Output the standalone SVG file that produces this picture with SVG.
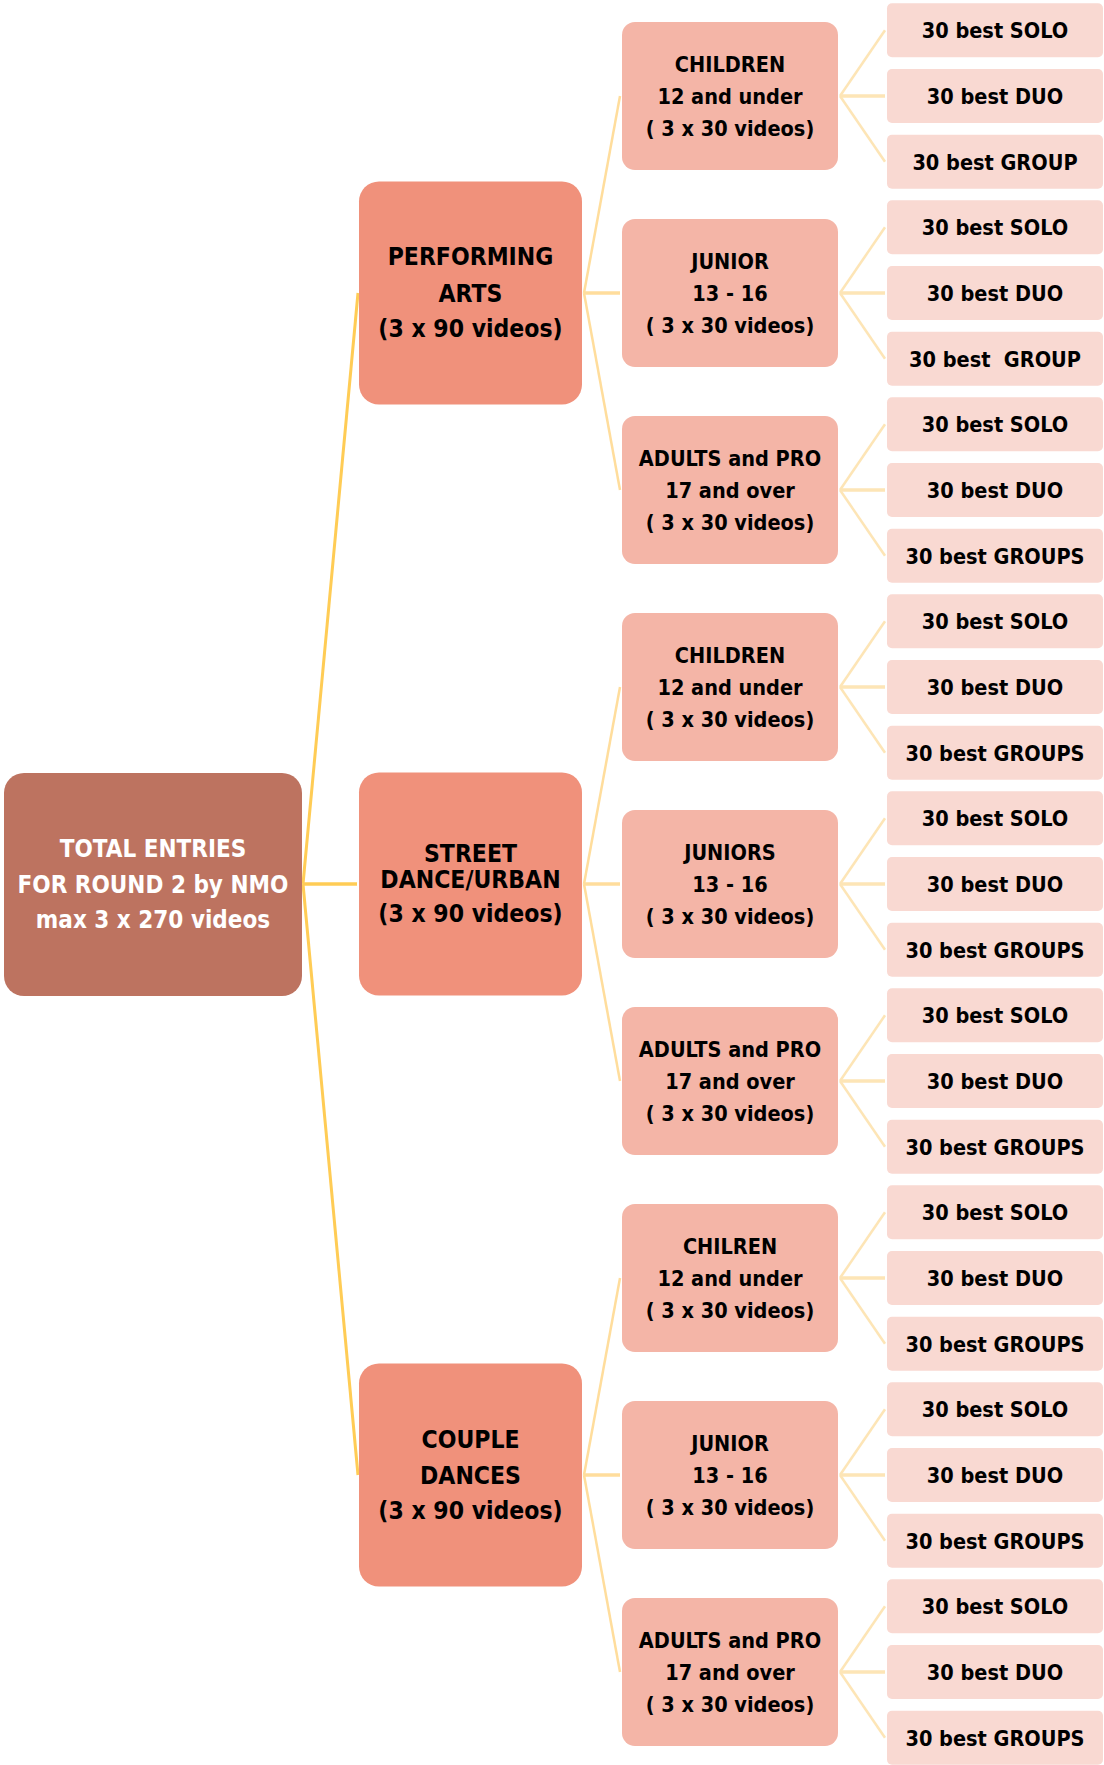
<svg xmlns="http://www.w3.org/2000/svg" width="1104" height="1765" viewBox="0 0 1104 1765">
<style>
text{font-family:"DejaVu Sans Condensed","DejaVu Sans","Liberation Sans",sans-serif;font-stretch:condensed;font-weight:bold;text-anchor:middle;fill:#000}
.root rect{fill:#BD7360}
.root text{fill:#fff;font-size:24px}
.l1 rect{fill:#F0917B}
.l1 text{font-size:24.5px}
.l2 rect{fill:#F4B5A7}
.l2 text{font-size:21.5px}
.lf rect{fill:#F9D9D2}
.lf text{font-size:21.5px}
.c0{stroke:#FFCC55;stroke-width:3;fill:none}
.c1{stroke:#FFDD9C;stroke-width:2.5;fill:none}
.c2{stroke:#FDE5B6;stroke-width:2.5;fill:none}
.h0{stroke:#FFCC55;stroke-width:3.5}
.h1{stroke:#FFDD9C;stroke-width:3.5}
.h2{stroke:#FDE5B6;stroke-width:3.5}
</style>
<g id="connectors">
<line class="c0" x1="303" y1="884" x2="358" y2="293"/>
<line class="h0" x1="303" y1="884" x2="357" y2="884"/>
<line class="c0" x1="303" y1="884" x2="358" y2="1475"/>
<line class="c1" x1="584" y1="293" x2="620" y2="96"/>
<line class="h1" x1="584" y1="293" x2="620" y2="293"/>
<line class="c1" x1="584" y1="293" x2="620" y2="490"/>
<line class="c1" x1="584" y1="884" x2="620" y2="687"/>
<line class="h1" x1="584" y1="884" x2="620" y2="884"/>
<line class="c1" x1="584" y1="884" x2="620" y2="1081"/>
<line class="c1" x1="584" y1="1475" x2="620" y2="1278"/>
<line class="h1" x1="584" y1="1475" x2="620" y2="1475"/>
<line class="c1" x1="584" y1="1475" x2="620" y2="1672"/>
<line class="c2" x1="840" y1="96" x2="885" y2="30.3"/><line class="h2" x1="840" y1="96" x2="885" y2="96"/><line class="c2" x1="840" y1="96" x2="885" y2="161.7"/>
<line class="c2" x1="840" y1="293" x2="885" y2="227.3"/><line class="h2" x1="840" y1="293" x2="885" y2="293"/><line class="c2" x1="840" y1="293" x2="885" y2="358.7"/>
<line class="c2" x1="840" y1="490" x2="885" y2="424.3"/><line class="h2" x1="840" y1="490" x2="885" y2="490"/><line class="c2" x1="840" y1="490" x2="885" y2="555.7"/>
<line class="c2" x1="840" y1="687" x2="885" y2="621.3"/><line class="h2" x1="840" y1="687" x2="885" y2="687"/><line class="c2" x1="840" y1="687" x2="885" y2="752.7"/>
<line class="c2" x1="840" y1="884" x2="885" y2="818.3"/><line class="h2" x1="840" y1="884" x2="885" y2="884"/><line class="c2" x1="840" y1="884" x2="885" y2="949.7"/>
<line class="c2" x1="840" y1="1081" x2="885" y2="1015.3"/><line class="h2" x1="840" y1="1081" x2="885" y2="1081"/><line class="c2" x1="840" y1="1081" x2="885" y2="1146.7"/>
<line class="c2" x1="840" y1="1278" x2="885" y2="1212.3"/><line class="h2" x1="840" y1="1278" x2="885" y2="1278"/><line class="c2" x1="840" y1="1278" x2="885" y2="1343.7"/>
<line class="c2" x1="840" y1="1475" x2="885" y2="1409.3"/><line class="h2" x1="840" y1="1475" x2="885" y2="1475"/><line class="c2" x1="840" y1="1475" x2="885" y2="1540.7"/>
<line class="c2" x1="840" y1="1672" x2="885" y2="1606.3"/><line class="h2" x1="840" y1="1672" x2="885" y2="1672"/><line class="c2" x1="840" y1="1672" x2="885" y2="1737.7"/>
</g>
<g id="root" class="root">
<rect x="4" y="773" width="298" height="223" rx="20"/>
<text x="153" y="857">TOTAL ENTRIES</text>
<text x="153" y="893">FOR ROUND 2 by NMO</text>
<text x="153" y="928">max 3 x 270 videos</text>
</g>
<g id="performing" class="l1">
<rect x="359" y="181.5" width="223" height="223" rx="20"/>
<text x="470.5" y="265">PERFORMING</text>
<text x="470.5" y="301.5">ARTS</text>
<text x="470.5" y="337">(3 x 90 videos)</text>
</g>
<g id="street" class="l1">
<rect x="359" y="772.5" width="223" height="223" rx="20"/>
<text x="470.5" y="862">STREET</text>
<text x="470.5" y="887.5">DANCE/URBAN</text>
<text x="470.5" y="922">(3 x 90 videos)</text>
</g>
<g id="couple" class="l1">
<rect x="359" y="1363.5" width="223" height="223" rx="20"/>
<text x="470.5" y="1448">COUPLE</text>
<text x="470.5" y="1484">DANCES</text>
<text x="470.5" y="1519">(3 x 90 videos)</text>
</g>
<g id="pa-children" class="l2"><rect x="622" y="22" width="216" height="148" rx="13"/><text x="730" y="72">CHILDREN</text><text x="730" y="104">12 and under</text><text x="730" y="136">( 3 x 30 videos)</text></g>
<g id="pa-junior" class="l2"><rect x="622" y="219" width="216" height="148" rx="13"/><text x="730" y="269">JUNIOR</text><text x="730" y="301">13 - 16</text><text x="730" y="333">( 3 x 30 videos)</text></g>
<g id="pa-adults" class="l2"><rect x="622" y="416" width="216" height="148" rx="13"/><text x="730" y="466">ADULTS and PRO</text><text x="730" y="498">17 and over</text><text x="730" y="530">( 3 x 30 videos)</text></g>
<g id="sd-children" class="l2"><rect x="622" y="613" width="216" height="148" rx="13"/><text x="730" y="663">CHILDREN</text><text x="730" y="695">12 and under</text><text x="730" y="727">( 3 x 30 videos)</text></g>
<g id="sd-juniors" class="l2"><rect x="622" y="810" width="216" height="148" rx="13"/><text x="730" y="860">JUNIORS</text><text x="730" y="892">13 - 16</text><text x="730" y="924">( 3 x 30 videos)</text></g>
<g id="sd-adults" class="l2"><rect x="622" y="1007" width="216" height="148" rx="13"/><text x="730" y="1057">ADULTS and PRO</text><text x="730" y="1089">17 and over</text><text x="730" y="1121">( 3 x 30 videos)</text></g>
<g id="cd-children" class="l2"><rect x="622" y="1204" width="216" height="148" rx="13"/><text x="730" y="1254">CHILREN</text><text x="730" y="1286">12 and under</text><text x="730" y="1318">( 3 x 30 videos)</text></g>
<g id="cd-junior" class="l2"><rect x="622" y="1401" width="216" height="148" rx="13"/><text x="730" y="1451">JUNIOR</text><text x="730" y="1483">13 - 16</text><text x="730" y="1515">( 3 x 30 videos)</text></g>
<g id="cd-adults" class="l2"><rect x="622" y="1598" width="216" height="148" rx="13"/><text x="730" y="1648">ADULTS and PRO</text><text x="730" y="1680">17 and over</text><text x="730" y="1712">( 3 x 30 videos)</text></g>
<g id="leaf1" class="lf"><rect x="887" y="3.3" width="216" height="54" rx="5"/><text x="995" y="38.3">30 best SOLO</text></g>
<g id="leaf2" class="lf"><rect x="887" y="69" width="216" height="54" rx="5"/><text x="995" y="104">30 best DUO</text></g>
<g id="leaf3" class="lf"><rect x="887" y="134.7" width="216" height="54" rx="5"/><text x="995" y="169.7">30 best GROUP</text></g>
<g id="leaf4" class="lf"><rect x="887" y="200.3" width="216" height="54" rx="5"/><text x="995" y="235.3">30 best SOLO</text></g>
<g id="leaf5" class="lf"><rect x="887" y="266" width="216" height="54" rx="5"/><text x="995" y="301">30 best DUO</text></g>
<g id="leaf6" class="lf"><rect x="887" y="331.7" width="216" height="54" rx="5"/><text x="995" y="366.7" xml:space="preserve">30 best  GROUP</text></g>
<g id="leaf7" class="lf"><rect x="887" y="397.3" width="216" height="54" rx="5"/><text x="995" y="432.3">30 best SOLO</text></g>
<g id="leaf8" class="lf"><rect x="887" y="463" width="216" height="54" rx="5"/><text x="995" y="498">30 best DUO</text></g>
<g id="leaf9" class="lf"><rect x="887" y="528.7" width="216" height="54" rx="5"/><text x="995" y="563.7">30 best GROUPS</text></g>
<g id="leaf10" class="lf"><rect x="887" y="594.3" width="216" height="54" rx="5"/><text x="995" y="629.3">30 best SOLO</text></g>
<g id="leaf11" class="lf"><rect x="887" y="660" width="216" height="54" rx="5"/><text x="995" y="695">30 best DUO</text></g>
<g id="leaf12" class="lf"><rect x="887" y="725.7" width="216" height="54" rx="5"/><text x="995" y="760.7">30 best GROUPS</text></g>
<g id="leaf13" class="lf"><rect x="887" y="791.3" width="216" height="54" rx="5"/><text x="995" y="826.3">30 best SOLO</text></g>
<g id="leaf14" class="lf"><rect x="887" y="857" width="216" height="54" rx="5"/><text x="995" y="892">30 best DUO</text></g>
<g id="leaf15" class="lf"><rect x="887" y="922.7" width="216" height="54" rx="5"/><text x="995" y="957.7">30 best GROUPS</text></g>
<g id="leaf16" class="lf"><rect x="887" y="988.3" width="216" height="54" rx="5"/><text x="995" y="1023.3">30 best SOLO</text></g>
<g id="leaf17" class="lf"><rect x="887" y="1054" width="216" height="54" rx="5"/><text x="995" y="1089">30 best DUO</text></g>
<g id="leaf18" class="lf"><rect x="887" y="1119.7" width="216" height="54" rx="5"/><text x="995" y="1154.7">30 best GROUPS</text></g>
<g id="leaf19" class="lf"><rect x="887" y="1185.3" width="216" height="54" rx="5"/><text x="995" y="1220.3">30 best SOLO</text></g>
<g id="leaf20" class="lf"><rect x="887" y="1251" width="216" height="54" rx="5"/><text x="995" y="1286">30 best DUO</text></g>
<g id="leaf21" class="lf"><rect x="887" y="1316.7" width="216" height="54" rx="5"/><text x="995" y="1351.7">30 best GROUPS</text></g>
<g id="leaf22" class="lf"><rect x="887" y="1382.3" width="216" height="54" rx="5"/><text x="995" y="1417.3">30 best SOLO</text></g>
<g id="leaf23" class="lf"><rect x="887" y="1448" width="216" height="54" rx="5"/><text x="995" y="1483">30 best DUO</text></g>
<g id="leaf24" class="lf"><rect x="887" y="1513.7" width="216" height="54" rx="5"/><text x="995" y="1548.7">30 best GROUPS</text></g>
<g id="leaf25" class="lf"><rect x="887" y="1579.3" width="216" height="54" rx="5"/><text x="995" y="1614.3">30 best SOLO</text></g>
<g id="leaf26" class="lf"><rect x="887" y="1645" width="216" height="54" rx="5"/><text x="995" y="1680">30 best DUO</text></g>
<g id="leaf27" class="lf"><rect x="887" y="1710.7" width="216" height="54" rx="5"/><text x="995" y="1745.7">30 best GROUPS</text></g>
</svg>
